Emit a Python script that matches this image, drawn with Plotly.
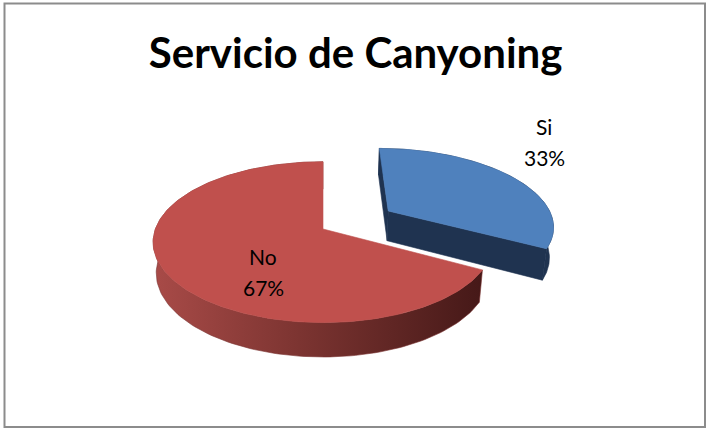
import numpy as np
import plotly.graph_objects as go

# ---- data ----
labels = ["Si", "No"]
values = [33, 67]
top_colors = ["#4F81BD", "#C0504D"]
side_colors = ["#1F3350", "#7A3230"]
explode = [0.47, 0.0]
title_text = "Servicio de Canyoning"

# ---- 3D pie geometry (screen pixels) ----
W, H = 707, 429
CX, CY = 323.0, 229.0          # screen position of the pie centre
FOCAL, DIST = 905.0, 5.4       # simple perspective camera
TILT = np.arcsin(0.4668)       # viewing angle above the pie plane
THICK = 0.21                   # pie thickness (radius = 1)
S, C = np.sin(TILT), np.cos(TILT)
CAM = np.array([0.0, -DIST * C, DIST * S])


def project(u, v, h):
    u, v, h = np.asarray(u, float), np.asarray(v, float), np.asarray(h, float)
    yc = v * S + h * C
    zc = DIST + v * C - h * S
    return CX + FOCAL * u / zc, CY - FOCAL * yc / zc


def poly(xs, ys, color, **kw):
    return go.Scatter(
        x=list(xs) + [xs[0]], y=list(ys) + [ys[0]], mode="lines", fill="toself",
        fillcolor=color, line=dict(width=0.6, color=color),
        hoverinfo="skip", showlegend=False, **kw)


fig = go.Figure()
total = float(sum(values))
start = 0.0
slices = []
for lab, val, ex in zip(labels, values, explode):
    a = start
    b = start + 2 * np.pi * val / total
    start = b
    mid = (a + b) / 2
    slices.append((lab, val, a, b, ex * np.sin(mid), ex * np.cos(mid)))

for i, (lab, val, a, b, u0, v0) in enumerate(slices):
    th = np.linspace(a, b, 160)
    ru, rv = u0 + np.sin(th), v0 + np.cos(th)

    # radial side faces (only those facing the camera)
    for ang, sign in ((a, -1.0), (b, 1.0)):
        n = sign * np.array([np.cos(ang), -np.sin(ang), 0.0])
        if np.dot(n, CAM - np.array([u0, v0, 0.0])) > 1e-6:
            eu, ev = u0 + np.sin(ang), v0 + np.cos(ang)
            fu = [u0, eu, eu, u0]
            fv = [v0, ev, ev, v0]
            fh = [0, 0, -THICK, -THICK]
            x, y = project(fu, fv, fh)
            fig.add_trace(poly(x, y, side_colors[i]))

    # outer curved wall
    xt, yt = project(ru, rv, np.zeros_like(th))
    xb, yb = project(ru[::-1], rv[::-1], -THICK * np.ones_like(th))
    bx = np.concatenate([xt, xb])
    by = np.concatenate([yt, yb])
    if lab == "No":
        fig.add_trace(poly(bx, by, side_colors[i], fillgradient=dict(
            type="horizontal", start=152, stop=480,
            colorscale=[[0, "#A94B48"], [0.45, "#7C3431"], [1, "#461918"]])))
    else:
        fig.add_trace(poly(bx, by, side_colors[i]))

    # top face
    ax, ay = project(u0, v0, 0.0)
    fig.add_trace(poly(np.concatenate([[ax], xt]), np.concatenate([[ay], yt]),
                       top_colors[i]))

# data labels
pct = [round(100 * v / total) for v in values]
label_xy = {"Si": (544, 126, 157), "No": (263, 256, 287)}
for lab, p in zip(labels, pct):
    x, y1, y2 = label_xy[lab]
    for txt, yy in ((lab, y1), (f"{p}%", y2)):
        fig.add_annotation(x=x, y=yy, text=txt, showarrow=False,
                           xanchor="center", yanchor="middle",
                           font=dict(family="Lato", size=21, color="#000000"))

fig.add_shape(type="rect", x0=4.5, y0=3.5, x1=705, y1=427,
              line=dict(color="#8C8C8C", width=2), layer="above")

fig.update_layout(
    width=W, height=H, margin=dict(l=0, r=0, t=0, b=0),
    paper_bgcolor="white", plot_bgcolor="white",
    title=dict(text=f"<b>{title_text}</b>", x=0.503, xanchor="center",
               y=1 - 53 / H, yanchor="middle",
               font=dict(family="Lato", size=42, color="#000000")),
    xaxis=dict(range=[0, W], visible=False, fixedrange=True),
    yaxis=dict(range=[H, 0], visible=False, fixedrange=True),
    showlegend=False,
)

fig.write_html("out.html")
